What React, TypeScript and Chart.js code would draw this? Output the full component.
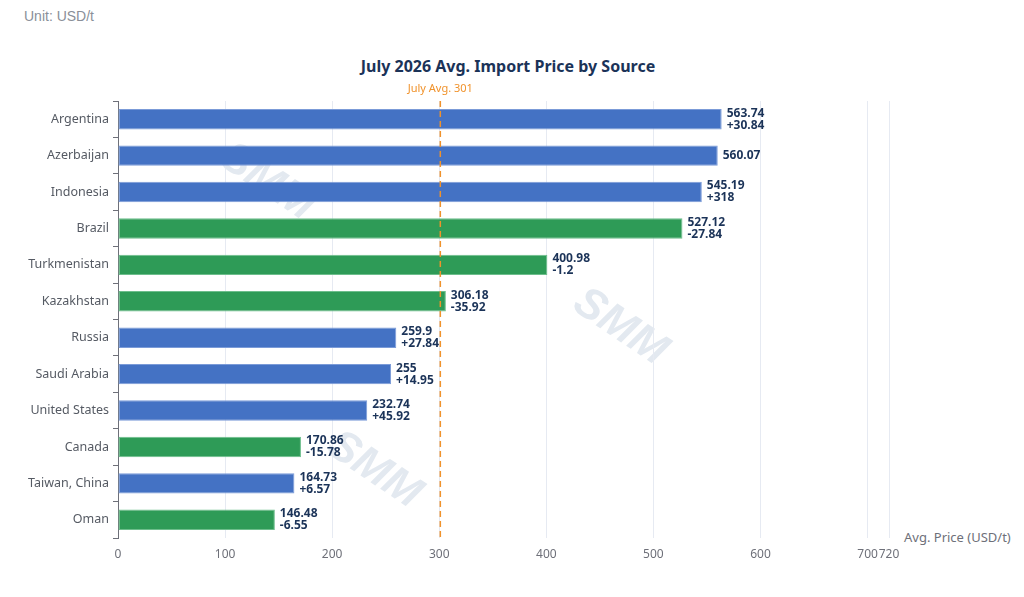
import React, { useEffect, useRef } from "react";
import { Chart, registerables } from "chart.js";

Chart.register(...registerables);

const countries = [
  "Argentina",
  "Azerbaijan",
  "Indonesia",
  "Brazil",
  "Turkmenistan",
  "Kazakhstan",
  "Russia",
  "Saudi Arabia",
  "United States",
  "Canada",
  "Taiwan, China",
  "Oman",
];
const prices = [563.74, 560.07, 545.19, 527.12, 400.98, 306.18, 259.9, 255, 232.74, 170.86, 164.73, 146.48];
const changes: (number | null)[] = [30.84, null, 318, -27.84, -1.2, -35.92, 27.84, 14.95, 45.92, -15.78, 6.57, -6.55];
const xTicks = [0, 100, 200, 300, 400, 500, 600, 700, 720];
const avgPrice = 301;

const BLUE = "#4472C4";
const BLUE_EDGE = "#7B9BD8";
const GREEN = "#2E9B57";
const GREEN_EDGE = "#6DBE8C";
const NAVY = "#1B3358";
const FONT = "'Noto Sans', 'Open Sans', sans-serif";

const fmtChange = (c: number) => (c > 0 ? "+" + c : "" + c);

const overlayPlugin = {
  id: "overlay",
  beforeDraw(chart: any) {
    // faint watermarks under everything
    const ctx = chart.ctx;
    ctx.save();
    ctx.fillStyle = "#E3E9F0";
    ctx.font = `italic bold 44px 'Liberation Sans', Arial, sans-serif`;
    ctx.textAlign = "center";
    ctx.textBaseline = "middle";
    const spots = [
      [267, 182],
      [620, 327],
      [374, 470],
    ];
    spots.forEach(([x, y]) => {
      ctx.save();
      ctx.translate(x, y);
      ctx.rotate((34 * Math.PI) / 180);
      ctx.fillText("SMM", 0, 0);
      ctx.restore();
    });
    ctx.restore();
  },
  afterDatasetsDraw(chart: any) {
    const ctx = chart.ctx;
    const xs = chart.scales.x;
    const area = chart.chartArea;
    const meta = chart.getDatasetMeta(0);

    // value labels
    ctx.save();
    ctx.fillStyle = NAVY;
    ctx.font = `bold 12px ${FONT}`;
    ctx.textAlign = "left";
    ctx.textBaseline = "middle";
    meta.data.forEach((bar: any, i: number) => {
      const x = bar.x + 5;
      const c = changes[i];
      if (c === null) {
        ctx.fillText(String(prices[i]), x, bar.y);
      } else {
        ctx.fillText(String(prices[i]), x, bar.y - 6);
        ctx.fillText(fmtChange(c), x, bar.y + 6);
      }
    });
    ctx.restore();

    // average line
    const ax = xs.getPixelForValue(avgPrice);
    ctx.save();
    ctx.strokeStyle = "#F0922B";
    ctx.lineWidth = 1.5;
    ctx.setLineDash([6, 4]);
    ctx.beginPath();
    ctx.moveTo(ax, area.top);
    ctx.lineTo(ax, area.bottom);
    ctx.stroke();
    ctx.setLineDash([]);
    ctx.fillStyle = "#F0922B";
    ctx.font = `11px ${FONT}`;
    ctx.textAlign = "center";
    ctx.textBaseline = "middle";
    ctx.fillText("July Avg. " + avgPrice, ax, area.top - 12);
    ctx.restore();
  },
};

const App: React.FC = () => {
  const chartRef = useRef<HTMLCanvasElement>(null);
  const chartInstance = useRef<Chart | null>(null);

  useEffect(() => {
    if (!chartRef.current) return;
    const ctx = chartRef.current.getContext("2d");
    if (!ctx) return;
    if (chartInstance.current) chartInstance.current.destroy();

    chartInstance.current = new Chart(ctx, {
      type: "bar",
      data: {
        labels: countries,
        datasets: [
          {
            label: "Avg. Price",
            data: prices,
            backgroundColor: changes.map((c) => (c !== null && c < 0 ? GREEN : BLUE)),
            borderColor: changes.map((c) => (c !== null && c < 0 ? GREEN_EDGE : BLUE_EDGE)),
            borderWidth: 1,
            borderSkipped: false,
            categoryPercentage: 1,
            barPercentage: 0.56,
          },
        ],
      },
      options: {
        indexAxis: "y",
        animation: false,
        responsive: true,
        maintainAspectRatio: false,
        layout: { padding: { left: 0, right: 135, top: 101, bottom: 0 } },
        plugins: {
          legend: { display: false },
          tooltip: { enabled: false },
        },
        scales: {
          x: {
            type: "linear",
            min: 0,
            max: 720,
            afterBuildTicks: (scale: any) => {
              scale.ticks = xTicks.map((v) => ({ value: v }));
            },
            afterFit: (scale: any) => {
              scale.height = 59;
            },
            grid: {
              color: "#E6EAF2",
              lineWidth: 1,
              drawTicks: false,
            },
            border: { display: false },
            ticks: {
              autoSkip: false,
              maxRotation: 0,
              padding: 9,
              color: "#6E7079",
              font: { family: FONT, size: 12 },
            },
          },
          y: {
            type: "category",
            afterFit: (scale: any) => {
              scale.width = 118;
            },
            grid: {
              offset: true,
              drawOnChartArea: false,
              drawTicks: true,
              tickLength: 5,
              color: "#6E7079",
            },
            border: { display: true, color: "#6E7079", width: 1 },
            ticks: {
              padding: 4,
              color: "#555A63",
              font: { family: FONT, size: 12.5 },
            },
          },
        },
      },
      plugins: [overlayPlugin],
    });

    return () => {
      if (chartInstance.current) {
        chartInstance.current.destroy();
        chartInstance.current = null;
      }
    };
  }, []);

  return (
    <div
      style={{
        position: "absolute",
        left: 0,
        top: 0,
        width: 1024,
        height: 597,
        background: "#fff",
        fontFamily: FONT,
      }}
    >
      <div
        style={{
          position: "absolute",
          left: 24,
          top: 8,
          fontSize: 14,
          color: "#8A8F99",
          fontFamily: "'Liberation Sans', Arial, sans-serif",
        }}
      >
        Unit: USD/t
      </div>
      <div
        style={{
          position: "absolute",
          left: 0,
          width: 1016,
          top: 55,
          textAlign: "center",
          fontSize: 16,
          fontWeight: 700,
          color: NAVY,
        }}
      >
        July 2026 Avg. Import Price by Source
      </div>
      <div style={{ position: "absolute", left: 904, top: 528, fontSize: 13, color: "#6E7079" }}>
        Avg. Price (USD/t)
      </div>
      <div style={{ position: "absolute", left: 0, top: 0, width: 1024, height: 597 }}>
        <canvas ref={chartRef}></canvas>
      </div>
    </div>
  );
};

export default App;
